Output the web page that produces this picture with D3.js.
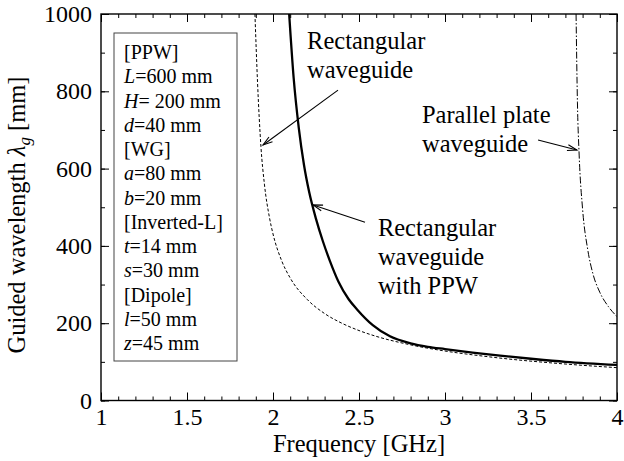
<!DOCTYPE html>
<html>
<head>
<meta charset="utf-8">
<script src="https://cdn.jsdelivr.net/npm/d3@7"></script>
<style>
  body { margin: 0; background: #fff; }
</style>
</head>
<body>
<svg class="chart" width="624" height="461"></svg>
<script>
// values (frequency in GHz, guided wavelength in mm)
const rectFreq = [1.895, 1.91, 1.93, 1.95, 1.98, 2.0, 2.05, 2.1, 2.2, 2.3, 2.4, 2.5, 2.6, 2.8, 3.0, 3.2, 3.4, 3.6, 3.8, 4.0]
const rectLambda = [1000, 824, 656, 560, 472, 431, 362, 317, 261, 225, 200, 181, 166, 144, 128, 116, 106, 98, 91, 85]

const ppwRectFreq = [2.094, 2.12, 2.15, 2.18, 2.21, 2.25, 2.29, 2.33, 2.38, 2.44, 2.49, 2.58, 2.68, 2.8, 2.9, 3.0, 3.16, 3.32, 3.5, 3.7, 4.0]
const ppwRectLambda = [1000, 835, 705, 610, 540, 470, 412, 362, 308, 262, 235, 195, 166, 148, 139, 133, 124, 116, 108, 100, 92]

const ppwFreq = [3.762, 3.77, 3.78, 3.8, 3.83, 3.86, 3.9, 3.95, 4.0]
const ppwLambda = [1000, 770, 635, 495, 390, 328, 280, 243, 217]

const xTicks = [1, 1.5, 2, 2.5, 3, 3.5, 4]
const yTicks = [0, 200, 400, 600, 800, 1000]

const legendLines = [
  ["", "[PPW]"], ["L", "=600 mm"], ["H", "= 200 mm"], ["d", "=40 mm"],
  ["", "[WG]"], ["a", "=80 mm"], ["b", "=20 mm"],
  ["", "[Inverted-L]"], ["t", "=14 mm"], ["s", "=30 mm"],
  ["", "[Dipole]"], ["l", "=50 mm"], ["z", "=45 mm"]
]

const serif = "Liberation Serif"

const svg = d3.select("svg.chart")

const plotLeft = 101, plotRight = 617, plotTop = 14, plotBottom = 400.5

const x = d3.scaleLinear().domain([1, 4]).range([plotLeft, plotRight])
const y = d3.scaleLinear().domain([0, 1000]).range([plotBottom, plotTop])

svg.append("defs").append("clipPath").attr("id", "plot")
  .append("rect")
  .attr("x", plotLeft).attr("y", plotTop)
  .attr("width", plotRight - plotLeft).attr("height", plotBottom - plotTop)

// axes: ticks point inward
const fmt = d3.format("d")
const minorX = d3.range(1, 4.001, 0.1)
const minorY = d3.range(0, 1001, 100)

svg.append("g")
  .attr("transform", "translate(0," + plotBottom + ")")
  .call(d3.axisBottom(x).tickValues(minorX).tickSize(-4).tickFormat(""))
svg.append("g")
  .attr("transform", "translate(0," + plotBottom + ")")
  .call(d3.axisBottom(x).tickValues(xTicks).tickSize(-8).tickPadding(7).tickFormat(d3.format("")))
svg.append("g")
  .attr("transform", "translate(0," + plotTop + ")")
  .call(d3.axisTop(x).tickValues(minorX).tickSize(-4).tickFormat(""))
svg.append("g")
  .attr("transform", "translate(0," + plotTop + ")")
  .call(d3.axisTop(x).tickValues(xTicks).tickSize(-8).tickFormat(""))

svg.append("g")
  .attr("transform", "translate(" + plotLeft + ",0)")
  .call(d3.axisLeft(y).tickValues(minorY).tickSize(-4).tickFormat(""))
svg.append("g")
  .attr("transform", "translate(" + plotLeft + ",0)")
  .call(d3.axisLeft(y).tickValues(yTicks).tickSize(-8).tickPadding(9).tickFormat(fmt))
svg.append("g")
  .attr("transform", "translate(" + plotRight + ",0)")
  .call(d3.axisRight(y).tickValues(minorY).tickSize(-4).tickFormat(""))
svg.append("g")
  .attr("transform", "translate(" + plotRight + ",0)")
  .call(d3.axisRight(y).tickValues(yTicks).tickSize(-8).tickFormat(""))

svg.selectAll(".domain").remove()
svg.selectAll("g").attr("font-family", null)
svg.selectAll(".tick line").attr("stroke", "#000").attr("stroke-width", 1)
svg.selectAll(".tick text")
  .style("font-family", serif)
  .style("font-size", "24px")
  .attr("fill", "#000")

svg.append("rect")
  .attr("x", plotLeft).attr("y", plotTop)
  .attr("width", plotRight - plotLeft).attr("height", plotBottom - plotTop)
  .attr("fill", "none").attr("stroke", "#000").attr("stroke-width", 1.4)

// curves
const line = d3.line()
  .x(d => x(d[0]))
  .y(d => y(d[1]))
  .curve(d3.curveMonotoneX)

const curves = [
  {f: rectFreq, l: rectLambda, w: 1, dash: "3,2"},
  {f: ppwRectFreq, l: ppwRectLambda, w: 2.3, dash: null},
  {f: ppwFreq, l: ppwLambda, w: 1, dash: "7,2,1.5,2"}
]

svg.append("g")
  .attr("clip-path", "url(#plot)")
  .selectAll("path")
  .data(curves)
  .enter()
  .append("path")
  .attr("d", c => line(d3.zip(c.f, c.l)))
  .attr("fill", "none")
  .attr("stroke", "#000")
  .attr("stroke-width", c => c.w)
  .attr("stroke-dasharray", c => c.dash)

// legend box
const legend = svg.append("g")
legend.append("rect")
  .attr("x", 114).attr("y", 33)
  .attr("width", 123).attr("height", 328)
  .attr("fill", "#fff").attr("stroke", "#444").attr("stroke-width", 1)

const legendText = legend.selectAll("text")
  .data(legendLines)
  .enter()
  .append("text")
  .attr("x", 124)
  .attr("y", (d, i) => 59 + i * 24.25)
  .style("font-family", serif)
  .style("font-size", "20px")
legendText.append("tspan").style("font-style", "italic").text(d => d[0])
legendText.append("tspan").text(d => d[1])

// annotations
const notes = [
  {f: 2.198, l: 909, lines: ["Rectangular", "waveguide"]},
  {f: 2.866, l: 718, lines: ["Parallel plate", "waveguide"]},
  {f: 2.61, l: 425, lines: ["Rectangular", "waveguide", "with PPW"]}
]
notes.forEach(n => {
  svg.append("text")
    .attr("x", x(n.f))
    .attr("y", y(n.l))
    .style("font-family", serif)
    .style("font-size", "24.5px")
    .selectAll("tspan")
    .data(n.lines)
    .enter()
    .append("tspan")
    .attr("x", x(n.f))
    .attr("dy", (d, i) => i == 0 ? 0 : 29)
    .text(d => d)
})

const arrows = [
  {from: [2.378, 803], to: [1.942, 661]},
  {from: [2.535, 461], to: [2.233, 506]},
  {from: [3.541, 674], to: [3.767, 648]}
]
arrows.forEach(a => {
  const x1 = x(a.from[0]), y1 = y(a.from[1]), x2 = x(a.to[0]), y2 = y(a.to[1])
  const ang = Math.atan2(y2 - y1, x2 - x1)
  const len = 10, spread = 0.3
  svg.append("line")
    .attr("x1", x1).attr("y1", y1).attr("x2", x2).attr("y2", y2)
    .attr("stroke", "#000").attr("stroke-width", 1.1)
  svg.append("path")
    .attr("d", "M" + (x2 - len * Math.cos(ang - spread)) + "," + (y2 - len * Math.sin(ang - spread)) +
      "L" + x2 + "," + y2 +
      "L" + (x2 - len * Math.cos(ang + spread)) + "," + (y2 - len * Math.sin(ang + spread)))
    .attr("fill", "none").attr("stroke", "#000").attr("stroke-width", 1.1)
})

// axis titles
svg.append("text")
  .attr("x", (plotLeft + plotRight) / 2)
  .attr("y", 452)
  .attr("text-anchor", "middle")
  .style("font-family", serif)
  .style("font-size", "24.5px")
  .text("Frequency [GHz]")

const yTitle = svg.append("text")
  .attr("transform", "translate(25,215) rotate(-90)")
  .attr("text-anchor", "middle")
  .style("font-family", serif)
  .style("font-size", "24.5px")
yTitle.append("tspan").text("Guided wavelength ")
yTitle.append("tspan").style("font-style", "italic").text("λ")
yTitle.append("tspan").style("font-style", "italic").style("font-size", "17px").attr("dy", 5).text("g")
yTitle.append("tspan").attr("dy", -5).text(" [mm]")
</script>
</body>
</html>
